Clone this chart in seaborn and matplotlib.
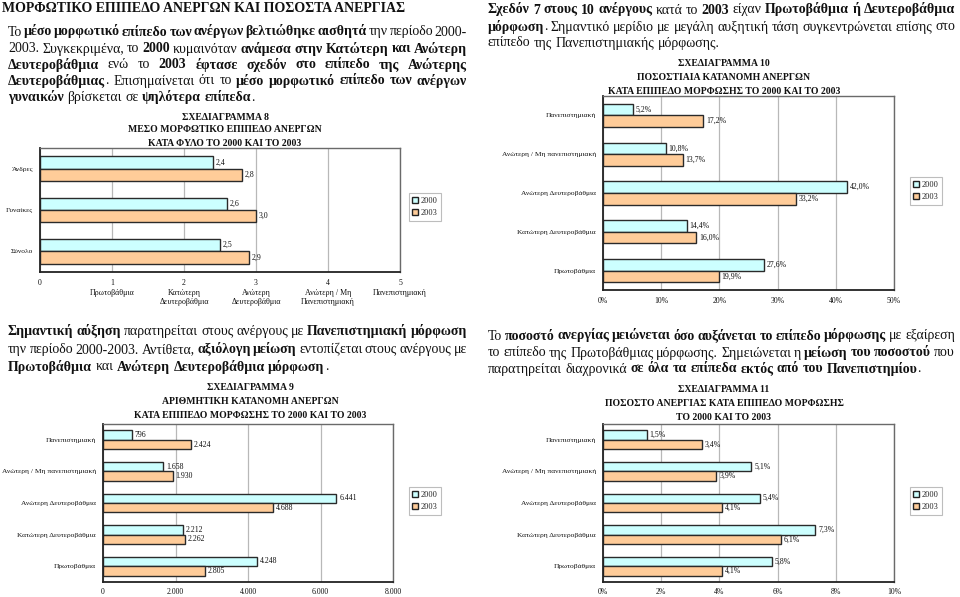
import matplotlib
matplotlib.use('Agg')
import matplotlib.pyplot as plt
import seaborn as sns
import pandas as pd
import numpy as np
from matplotlib.patches import Patch

# ---------------- data ----------------
years = ['2000', '2003']

gender_cats = ['Άνδρες', 'Γυναίκες', 'Σύνολο']
gender_2000 = [2.4, 2.6, 2.5]
gender_2003 = [2.8, 3.0, 2.9]
level_ticks = ['0', '1', '2', '3', '4', '5']
level_names = ['', 'Πρωτοβάθμια', 'Κατώτερη\nΔευτεροβάθμια', 'Ανώτερη\nΔευτεροβάθμια',
               'Ανώτερη / Μη\nΠανεπιστημιακή', 'Πανεπιστημιακή']

edu_cats = ['Πανεπιστημιακή', 'Ανώτερη / Μη πανεπιστημιακή', 'Ανώτερη Δευτεροβάθμια',
            'Κατώτερη Δευτεροβάθμια', 'Πρωτοβάθμια']
share_2000 = [5.2, 10.8, 42.0, 14.4, 27.6]
share_2003 = [17.2, 13.7, 33.2, 16.0, 19.9]
count_2000 = [796, 1658, 6441, 2212, 4248]
count_2003 = [2424, 1930, 4688, 2262, 2805]
rate_2000 = [1.5, 5.1, 5.4, 7.3, 5.8]
rate_2003 = [3.4, 3.9, 4.1, 6.1, 4.1]

C2000 = '#CCFFFF'
C2003 = '#FFCC99'

# ---------------- setup ----------------
sns.set_theme(style='white')
plt.rcParams['font.family'] = ['Liberation Serif', 'DejaVu Serif']

W, H = 960, 597
fig = plt.figure(figsize=(9.6, 5.97), dpi=100)
fig.patch.set_facecolor('white')
renderer = fig.canvas.get_renderer()


def fx(x):
    return x / W


def fy(y):
    return 1 - y / H


def rich_line(segs, x0, y, size, x1=None):
    words = []
    join_next = False
    for text, bold in segs:
        parts = text.split(' ')
        for i, p in enumerate(parts):
            if p == '':
                continue
            if i == 0 and join_next and words:
                words[-1].append((p, bold))
            else:
                words.append([(p, bold)])
        join_next = not text.endswith(' ')
    yb = y + 4.5  # baseline position (pixels from top)
    items, widths = [], []
    for w in words:
        ws = []
        for t, b in w:
            tx = fig.text(0, fy(yb), t, fontsize=size,
                          fontweight='bold' if b else 'normal',
                          va='baseline', ha='left', color='#111111')
            ws.append((tx, tx.get_window_extent(renderer).width))
        items.append(ws)
        widths.append(sum(a[1] for a in ws))
    t1 = fig.text(0, 0, 'x x', fontsize=size)
    t2 = fig.text(0, 0, 'xx', fontsize=size)
    sp = t1.get_window_extent(renderer).width - t2.get_window_extent(renderer).width
    t1.remove(); t2.remove()
    if x1 is not None and len(words) > 1:
        gap = (x1 - x0 - sum(widths)) / (len(words) - 1)
    else:
        gap = sp
    x = x0
    for ws, wt in zip(items, widths):
        xx = x
        for tx, wd in ws:
            tx.set_x(fx(xx))
            xx += wd
        x += wt + gap


def centered_title(lines, cx, ys, size=7):
    for t, y in zip(lines, ys):
        fig.text(fx(cx), fy(y), t, fontsize=size, fontweight='bold',
                 ha='center', va='center', color='#111111')


def bar_chart(box, cats, v0, v1, xmax, xstep, tickfmt, labfmt, legend_xy, xpad=5):
    left, top, right, bottom = box
    ax = fig.add_axes([fx(left), fy(bottom), (right - left) / W, (bottom - top) / H])
    n = len(cats)
    df = pd.DataFrame({'cat': cats * 2, 'val': list(v0) + list(v1),
                       'year': [years[0]] * n + [years[1]] * n})
    sns.barplot(data=df, x='val', y='cat', hue='year', orient='h',
                palette=[C2000, C2003], saturation=1, edgecolor='#2a2a2a',
                linewidth=1.0, width=0.6, ax=ax, legend=False)
    ax.set_xlim(0, xmax)
    ax.set_ylim(n - 0.5, -0.5)
    ticks = np.arange(0, xmax + xstep / 2, xstep)
    ax.set_xticks(ticks)
    ax.set_xticklabels([tickfmt(t) for t in ticks])
    ax.set_axisbelow(True)
    ax.xaxis.grid(True, color='#b8b8b8', lw=0.9)
    ax.yaxis.grid(False)
    for s in ['left', 'bottom']:
        ax.spines[s].set_color('#222222')
        ax.spines[s].set_linewidth(1.3)
    for s in ['top', 'right']:
        ax.spines[s].set_color('#6a6a6a')
        ax.spines[s].set_linewidth(1.0)
    ax.set_xlabel('')
    ax.set_ylabel('')
    ax.tick_params(axis='x', length=0, pad=xpad, labelsize=5.6, colors='#111111')
    ax.tick_params(axis='y', which='major', length=0, pad=5, labelsize=5.4, colors='#111111')
    ax.set_yticks(np.arange(-0.5, n, 1.0), minor=True)
    ax.tick_params(axis='y', which='minor', length=3, width=0.8, direction='out', color='#222222')
    for cont, vals in zip(ax.containers, [v0, v1]):
        ax.bar_label(cont, labels=[labfmt(v) for v in vals], padding=2,
                     fontsize=5.6, color='#111111')
    handles = [Patch(facecolor=C2000, edgecolor='#222222', label=years[0]),
               Patch(facecolor=C2003, edgecolor='#222222', label=years[1])]
    leg = fig.legend(handles=handles, loc='center',
                     bbox_to_anchor=(fx(legend_xy[0]), fy(legend_xy[1])),
                     fontsize=6, handlelength=0.7, handleheight=0.7,
                     handletextpad=0.3, borderpad=0.45, labelspacing=0.55,
                     frameon=True, fancybox=False, edgecolor='#bdbdbd',
                     framealpha=1)
    leg.get_frame().set_linewidth(0.8)
    return ax


def dec1(v):
    return f'{v:.1f}'.replace('.', ',')


def pct1(v):
    return dec1(v) + '%'


def thou(v):
    return f'{int(v):,}'.replace(',', '.')


# ---------------- texts ----------------
PS = 10
fig.text(fx(2), fy(8), 'ΜΟΡΦΩΤΙΚΟ ΕΠΙΠΕΔΟ ΑΝΕΡΓΩΝ ΚΑΙ ΠΟΣΟΣΤΑ ΑΝΕΡΓΙΑΣ',
         fontsize=10, fontweight='bold', va='center', ha='left', color='#111111')

LX0, LX1 = 8, 467
RX0, RX1 = 488, 955
rich_line([('Το ', 0), ('μέσο μορφωτικό επίπεδο των ανέργων βελτιώθηκε αισθητά', 1),
           (' την περίοδο 2000-', 0)], LX0, 31, PS, LX1)
rich_line([('2003. Συγκεκριμένα, το ', 0), ('2000', 1), (' κυμαινόταν ', 0),
           ('ανάμεσα στην Κατώτερη και Ανώτερη', 1)], LX0, 48, PS, LX1)
rich_line([('Δευτεροβάθμια', 1), (' ενώ το ', 0),
           ('2003 έφτασε σχεδόν στο επίπεδο της Ανώτερης', 1)], LX0, 64, PS, LX1)
rich_line([('Δευτεροβάθμιας', 1), ('. Επισημαίνεται ότι το ', 0),
           ('μέσο μορφωτικό επίπεδο των ανέργων', 1)], LX0, 80, PS, LX1)
rich_line([('γυναικών', 1), (' βρίσκεται σε ', 0), ('ψηλότερα επίπεδα', 1), ('.', 0)],
          LX0, 97, PS)

rich_line([('Σχεδόν 7 στους 10 ανέργους', 1), (' κατά το ', 0), ('2003', 1),
           (' είχαν ', 0), ('Πρωτοβάθμια ή Δευτεροβάθμια', 1)], RX0, 9, PS, RX1)
rich_line([('μόρφωση', 1),
           ('. Σημαντικό μερίδιο με μεγάλη αυξητική τάση συγκεντρώνεται επίσης στο', 0)],
          RX0, 26, PS, RX1)
rich_line([('επίπεδο της Πανεπιστημιακής μόρφωσης.', 0)], RX0, 42, PS)

rich_line([('Σημαντική αύξηση', 1), (' παρατηρείται στους ανέργους με ', 0),
           ('Πανεπιστημιακή μόρφωση', 1)], LX0, 331, PS, LX1)
rich_line([('την περίοδο 2000-2003. Αντίθετα, ', 0), ('αξιόλογη μείωση', 1),
           (' εντοπίζεται στους ανέργους με', 0)], LX0, 349, PS, LX1)
rich_line([('Πρωτοβάθμια', 1), (' και ', 0), ('Ανώτερη Δευτεροβάθμια μόρφωση', 1),
           ('.', 0)], LX0, 366, PS)

rich_line([('Το ', 0), ('ποσοστό ανεργίας μειώνεται όσο αυξάνεται το επίπεδο μόρφωσης', 1),
           (' με εξαίρεση', 0)], RX0, 335, PS, RX1)
rich_line([('το επίπεδο της Πρωτοβάθμιας μόρφωσης. Σημειώνεται η ', 0),
           ('μείωση του ποσοστού', 1), (' που', 0)], RX0, 352, PS, RX1)
rich_line([('παρατηρείται διαχρονικά ', 0),
           ('σε όλα τα επίπεδα εκτός από του Πανεπιστημίου', 1), ('.', 0)], RX0, 368, PS)

centered_title(['ΣΧΕΔΙΑΓΡΑΜΜΑ 8', 'ΜΕΣΟ ΜΟΡΦΩΤΙΚΟ ΕΠΙΠΕΔΟ ΑΝΕΡΓΩΝ',
                'ΚΑΤΑ ΦΥΛΟ ΤΟ 2000 ΚΑΙ ΤΟ 2003'], 225, [118, 130, 143])
centered_title(['ΣΧΕΔΙΑΓΡΑΜΜΑ 10', 'ΠΟΣΟΣΤΙΑΙΑ ΚΑΤΑΝΟΜΗ ΑΝΕΡΓΩΝ',
                'ΚΑΤΑ ΕΠΙΠΕΔΟ ΜΟΡΦΩΣΗΣ ΤΟ 2000 ΚΑΙ ΤΟ 2003'], 724, [64, 78, 91])
centered_title(['ΣΧΕΔΙΑΓΡΑΜΜΑ 9', 'ΑΡΙΘΜΗΤΙΚΗ ΚΑΤΑΝΟΜΗ ΑΝΕΡΓΩΝ',
                'ΚΑΤΑ ΕΠΙΠΕΔΟ ΜΟΡΦΩΣΗΣ ΤΟ 2000 ΚΑΙ ΤΟ 2003'], 250, [388, 402, 415])
centered_title(['ΣΧΕΔΙΑΓΡΑΜΜΑ 11', 'ΠΟΣΟΣΤΟ ΑΝΕΡΓΙΑΣ ΚΑΤΑ ΕΠΙΠΕΔΟ ΜΟΡΦΩΣΗΣ',
                'ΤΟ 2000 ΚΑΙ ΤΟ 2003'], 724, [390, 404, 417])

# ---------------- charts ----------------
ax8 = bar_chart((40, 148, 400, 272), gender_cats, gender_2000, gender_2003,
                5, 1, lambda t: level_ticks[int(round(t))], dec1, (425, 207))
for i, name in enumerate(level_names):
    if name:
        ax8.annotate(name, xy=(i, 0), xycoords=('data', 'axes fraction'),
                     xytext=(0, -17), textcoords='offset pixels',
                     ha='center', va='top', fontsize=5.8, color='#111111',
                     linespacing=1.1)

bar_chart((603, 96, 894, 290), edu_cats, share_2000, share_2003,
          50, 10, lambda t: f'{int(round(t))}%', pct1, (926, 191))
bar_chart((103, 424, 393, 582), edu_cats, count_2000, count_2003,
          8000, 2000, thou, thou, (425, 501), xpad=4)
bar_chart((603, 424, 894, 582), edu_cats, rate_2000, rate_2003,
          10, 2, lambda t: f'{int(round(t))}%', pct1, (926, 501), xpad=4)

fig.savefig('out.png', dpi=100, facecolor='white')
